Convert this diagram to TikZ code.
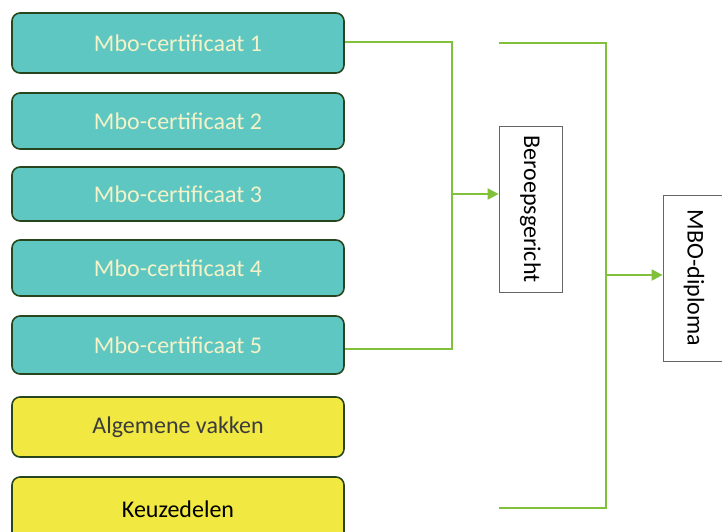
\documentclass[tikz,border=0pt]{standalone}
\usepackage{fontspec}
\setmainfont{Carlito}
\usetikzlibrary{arrows.meta}
\definecolor{tealfill}{RGB}{94,199,194}
\definecolor{yellowfill}{RGB}{241,232,66}
\definecolor{boxedge}{RGB}{40,70,30}
\definecolor{linkgreen}{RGB}{128,192,58}
\definecolor{creamtext}{RGB}{244,242,200}
\definecolor{greytext}{RGB}{60,60,60}
\tikzset{
  cert/.style={draw=boxedge, line width=1.6pt, rounded corners=8pt, fill=tealfill,
    minimum width=332pt, text=creamtext, font=\fontsize{24}{28}\selectfont},
  general/.style={cert, fill=yellowfill},
  result/.style={draw=black!60, line width=0.8pt, fill=white, rotate=-90,
    font=\fontsize{24}{28}\selectfont, inner sep=0pt},
  link/.style={draw=linkgreen, line width=2pt},
  linkarrow/.style={link, -{Triangle[length=11pt,width=11pt]}}
}
\begin{document}
\begin{tikzpicture}[x=1pt,y=-1pt]
\useasboundingbox (0,0) rectangle (722,531);
\clip (0,0) rectangle (722,531);
% certificate boxes
\node[cert, minimum height=60pt] (c1) at (178,43) {Mbo-certificaat 1};
\node[cert, minimum height=56pt] (c2) at (178,121) {Mbo-certificaat 2};
\node[cert, minimum height=54pt] (c3) at (178,194) {Mbo-certificaat 3};
\node[cert, minimum height=56pt] (c4) at (178,268) {Mbo-certificaat 4};
\node[cert, minimum height=58pt] (c5) at (178,345) {Mbo-certificaat 5};
% general parts
\node[general, minimum height=60pt, text=greytext] (av) at (178,427) {Algemene vakken};
\node[general, minimum height=64pt, text=black] (kd) at (178,509) {Keuzedelen};
% result boxes
\node[result, minimum width=166pt, minimum height=63pt] (ber) at (530.5,209) {Beroepsgericht};
\node[result, minimum width=166pt, minimum height=62pt] (mbo) at (694,278) {MBO-diploma};
% first bracket
\coordinate (ja) at (452,194);
\draw[link] (c1.east |- 0,42) -| (ja) |- (c5.east |- 0,349);
\draw[linkarrow] (ja) -- (ja -| ber.south);
% second bracket
\coordinate (ta) at (499,43);
\coordinate (tb) at (499,508);
\coordinate (jb) at (606,275);
\draw[link] (ta) -| (jb) |- (tb);
\draw[linkarrow] (jb) -- (jb -| mbo.south);
\end{tikzpicture}
\end{document}
